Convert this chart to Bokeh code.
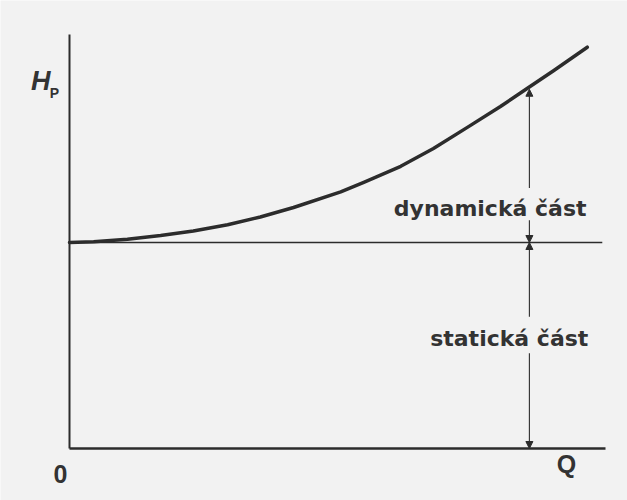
from bokeh.plotting import figure
from bokeh.models import Range1d, Arrow, NormalHead
from bokeh.core.properties import value
from bokeh.embed import file_html
from bokeh.resources import INLINE

# ---- data ----
curve_q = [0.0, 0.45, 1.08, 1.70, 2.31, 2.95, 3.56, 4.18, 5.06, 5.49, 6.18, 6.79, 7.43, 8.04, 8.53, 9.03, 9.66]
curve_h = [5.00, 5.02, 5.08, 5.17, 5.28, 5.43, 5.62, 5.85, 6.23, 6.46, 6.85, 7.28, 7.80, 8.30, 8.73, 9.17, 9.74]
static_h = 5.0
q_max = 10.0
h_max = 10.05
static_end_q = 9.94
marker_q = 8.58
marker_top_h = 8.72
part_labels = ["dynamická část", "statická část"]
origin_label = "0"
q_label = "Q"
h_label = "H"
h_sub = "P"

INK = "#2c2c2c"
BG = "#f2f2f2"

p = figure(width=627, height=500, output_backend="svg", toolbar_location=None,
           x_range=Range1d(-69 / 53.6, 558 / 53.6), y_range=Range1d(-52 / 41.2, 448 / 41.2),
           x_axis_location=None, y_axis_location=None, min_border=0,
           background_fill_color=BG, border_fill_color=BG, outline_line_color=None)
p.xgrid.grid_line_color = None
p.ygrid.grid_line_color = None

# axes
p.line([0, 0], [0, h_max], line_color=INK, line_width=2)
p.line([0, q_max], [0, 0], line_color=INK, line_width=2.5)

# static level line
p.line([0, static_end_q], [static_h, static_h], line_color=INK, line_width=1.6)

# system curve
p.line(curve_q, curve_h, line_color=INK, line_width=3.5, line_join="round", line_cap="round")

# dimension arrows
def arr(y0, y1):
    p.add_layout(Arrow(end=NormalHead(size=7, fill_color=INK, line_color=INK, line_width=1),
                       x_start=marker_q, y_start=y0, x_end=marker_q, y_end=y1,
                       line_color=INK, line_width=1.1))

arr(6.32, marker_top_h)
arr(5.54, static_h)
arr(3.20, static_h)
arr(2.31, 0.0)

# part labels
p.text(x=[9.646, 9.68], y=[5.825, 2.67], text=part_labels,
       text_font=value("DejaVu Sans"), text_font_size="22px", text_font_style="bold",
       text_align="right", text_baseline="alphabetic", text_color="#333333")

# axis labels
p.text(x=[-0.168], y=[-0.62], text=[origin_label], text_font=value("Liberation Sans"),
       text_font_size="25px", text_font_style="bold", text_align="center",
       text_baseline="middle", text_color="#333333")
p.text(x=[9.27], y=[-0.37], text=[q_label], text_font=value("Liberation Sans"),
       text_font_size="25px", text_font_style="bold", text_align="center",
       text_baseline="middle", text_color="#333333")
p.text(x=[-0.72], y=[8.915], text=[h_label], text_font=value("Liberation Sans"),
       text_font_size="27px", text_font_style="bold italic", text_align="left",
       text_baseline="alphabetic", text_color="#333333")
p.text(x=[-0.37], y=[8.64], text=[h_sub], text_font=value("Liberation Sans"),
       text_font_size="14px", text_font_style="bold", text_align="left",
       text_baseline="alphabetic", text_color="#333333")

open("out.html", "w").write(file_html(p, INLINE))
